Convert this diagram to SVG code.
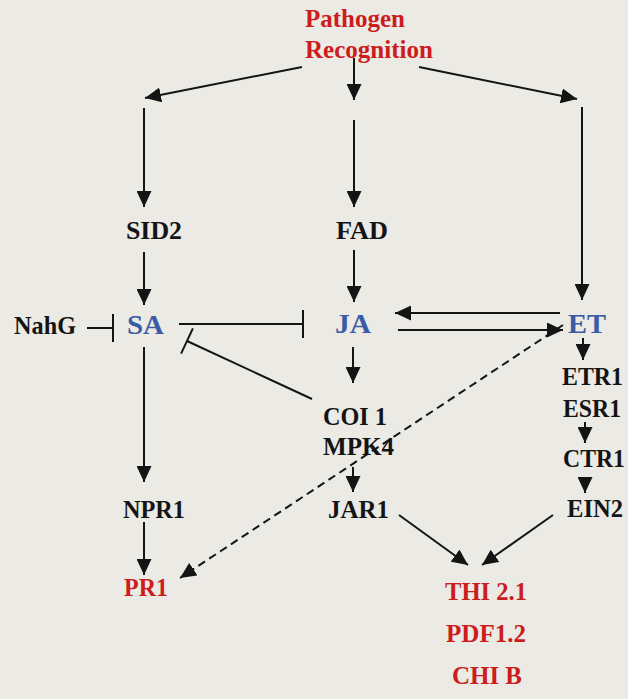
<svg xmlns="http://www.w3.org/2000/svg" width="628" height="699" viewBox="0 0 628 699">
<defs>
<style>
text{font-family:"Liberation Serif","Times New Roman",serif;font-weight:bold;font-size:25px;}
.k{fill:#141414;}
.r{fill:#cc1c1c;}
.b{fill:#3a5ca6;font-size:28px;}
.c{stroke:#141414;stroke-width:2;fill:none;}
.a{marker-end:url(#ah);}
.t{marker-end:url(#tee);}
.d{stroke-dasharray:8 5;}
</style>
<marker id="ah" markerUnits="userSpaceOnUse" markerWidth="17" markerHeight="15" viewBox="0 0 17 15" refX="16" refY="7.5" orient="auto"><path d="M0,0 L16,7.5 L0,15 z" fill="#141414"/></marker>
<marker id="tee" markerUnits="userSpaceOnUse" markerWidth="4" markerHeight="32" viewBox="0 0 4 32" refX="2" refY="16" orient="auto"><path d="M2,2 L2,30" stroke="#141414" stroke-width="2"/></marker>
</defs>
<rect width="628" height="699" fill="#ebeae5"/>
<g id="connectors">
<line class="c a" x1="302" y1="67" x2="145" y2="98"/>
<line class="c a" x1="354" y1="58" x2="354" y2="100"/>
<line class="c a" x1="419" y1="67" x2="577" y2="99"/>
<line class="c a" x1="144" y1="108" x2="144" y2="207"/>
<line class="c a" x1="354" y1="120" x2="354" y2="207"/>
<line class="c a" x1="582" y1="107" x2="582" y2="300"/>
<line class="c a" x1="144" y1="252" x2="144" y2="305"/>
<line class="c a" x1="354" y1="250" x2="354" y2="302"/>
<line class="c t" x1="87" y1="328" x2="113" y2="328"/>
<line class="c t" x1="179" y1="324" x2="303" y2="324"/>
<line class="c t" x1="312" y1="399" x2="187" y2="341"/>
<line class="c a" x1="560" y1="313" x2="395" y2="313"/>
<line class="c a" x1="398" y1="330" x2="563" y2="330"/>
<line class="c a" x1="583" y1="338" x2="583" y2="360"/>
<line class="c a" x1="585" y1="422" x2="585" y2="443"/>
<line class="c a" x1="585" y1="477" x2="585" y2="493"/>
<line class="c a" x1="353" y1="347" x2="353" y2="383"/>
<line class="c a" x1="144" y1="347" x2="144" y2="482"/>
<line class="c a" x1="144" y1="522" x2="144" y2="575"/>
<line class="c a" x1="353" y1="467" x2="353" y2="492"/>
<line class="c a" x1="399" y1="515" x2="468" y2="565"/>
<line class="c a" x1="553" y1="515" x2="482" y2="565"/>
<line class="c a d" x1="563" y1="325" x2="180" y2="578"/>
</g>
<g id="pathogen"><text class="r" x="305" y="27" textLength="100" lengthAdjust="spacingAndGlyphs">Pathogen</text><text class="r" x="305" y="58" textLength="128" lengthAdjust="spacingAndGlyphs">Recognition</text></g>
<g id="sid2"><text class="k" x="126" y="239" textLength="56" lengthAdjust="spacingAndGlyphs">SID2</text></g>
<g id="fad"><text class="k" x="336" y="239" textLength="52" lengthAdjust="spacingAndGlyphs">FAD</text></g>
<g id="nahg"><text class="k" x="14" y="334" textLength="62" lengthAdjust="spacingAndGlyphs">NahG</text></g>
<g id="sa"><text class="b" x="127" y="334" textLength="37" lengthAdjust="spacingAndGlyphs">SA</text></g>
<g id="ja"><text class="b" x="335" y="333" textLength="36" lengthAdjust="spacingAndGlyphs">JA</text></g>
<g id="et"><text class="b" x="568" y="333" textLength="38" lengthAdjust="spacingAndGlyphs">ET</text></g>
<g id="etr1"><text class="k" x="562" y="385" textLength="61" lengthAdjust="spacingAndGlyphs">ETR1</text></g>
<g id="esr1"><text class="k" x="563" y="417" textLength="58" lengthAdjust="spacingAndGlyphs">ESR1</text></g>
<g id="ctr1"><text class="k" x="563" y="467" textLength="62" lengthAdjust="spacingAndGlyphs">CTR1</text></g>
<g id="ein2"><text class="k" x="567" y="517" textLength="56" lengthAdjust="spacingAndGlyphs">EIN2</text></g>
<g id="coi1"><text class="k" x="323" y="425" textLength="64" lengthAdjust="spacingAndGlyphs">COI 1</text></g>
<g id="mpk4"><text class="k" x="323" y="455" textLength="71" lengthAdjust="spacingAndGlyphs">MPK4</text></g>
<g id="jar1"><text class="k" x="328" y="518" textLength="61" lengthAdjust="spacingAndGlyphs">JAR1</text></g>
<g id="npr1"><text class="k" x="123" y="518" textLength="62" lengthAdjust="spacingAndGlyphs">NPR1</text></g>
<g id="pr1"><text class="r" x="124" y="596" textLength="44" lengthAdjust="spacingAndGlyphs">PR1</text></g>
<g id="thi21"><text class="r" x="445" y="600" textLength="82" lengthAdjust="spacingAndGlyphs">THI 2.1</text></g>
<g id="pdf12"><text class="r" x="446" y="642" textLength="80" lengthAdjust="spacingAndGlyphs">PDF1.2</text></g>
<g id="chib"><text class="r" x="452" y="684" textLength="70" lengthAdjust="spacingAndGlyphs">CHI B</text></g>
</svg>
